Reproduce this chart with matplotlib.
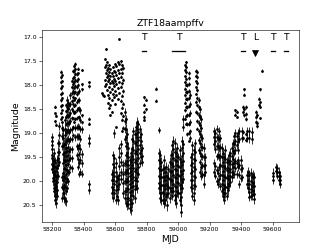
import numpy as np
import matplotlib
matplotlib.use("Agg")
import matplotlib.pyplot as plt

# ---- data: strands of observations (MJD, typical error, magnitudes) ----
season1 = [
    (58200, 0.08, [19.08, 19.15, 19.24, 19.33, 19.45, 19.52, 19.63, 19.74]),
    (58206, 0.09, [19.55, 19.66, 19.80, 19.93, 20.00]),
    (58214, 0.10, [19.40, 19.55, 19.71, 19.84, 19.98, 20.13, 20.20]),
    (58220, 0.03, [18.45, 18.58, 18.75]),
    (58220, 0.10, [19.60, 19.78, 19.90, 20.05, 20.17, 20.31, 20.40]),
    (58226, 0.03, [18.63, 18.82]),
    (58226, 0.11, [19.70, 19.88, 19.99, 20.12, 20.26, 20.45]),
    (58233, 0.10, [19.55, 19.73, 19.86, 20.02, 20.18, 20.30]),
    (58240, 0.09, [19.20, 19.38, 19.52, 19.66, 19.88]),
    (58247, 0.08, [18.85, 19.04, 19.21, 19.39, 19.60]),
    (58256, 0.03, [17.72, 17.83, 17.94, 18.06, 18.19, 18.31, 18.44, 18.57, 18.70]),
    (58262, 0.03, [17.78, 17.91, 18.02, 18.15, 18.27, 18.41, 18.52, 18.66, 18.77]),
    (58262, 0.08, [18.88, 19.05, 19.27, 19.92, 20.11, 20.35]),
    (58268, 0.09, [18.93, 19.09, 19.26, 19.44, 19.61, 19.82, 19.97, 20.14, 20.25]),
    (58274, 0.10, [19.22, 19.41, 19.55, 19.73, 19.90, 20.08, 20.24, 20.35]),
    (58280, 0.09, [18.72, 18.90, 19.04, 19.22, 19.38, 19.57, 19.74, 19.93, 20.11, 20.40]),
    (58286, 0.04, [18.40, 18.53, 18.66, 18.80]),
    (58286, 0.09, [18.97, 19.16, 19.31, 19.48, 19.66, 19.84, 20.02, 20.20, 20.42]),
    (58293, 0.08, [18.30, 18.46, 18.61, 18.79, 18.96, 19.14, 19.36, 19.55, 19.77, 19.95, 20.15]),
    (58300, 0.07, [18.36, 18.50, 18.64, 18.79, 18.94, 19.11, 19.28, 19.46, 19.63, 19.81, 20.00]),
    (58308, 0.07, [18.42, 18.61, 18.78, 18.97, 19.16, 19.37, 19.55, 19.80]),
    (58316, 0.07, [18.21, 18.39, 18.57, 18.74, 18.93, 19.12, 19.33, 19.51, 19.70]),
    (58324, 0.04, [17.90, 18.04, 18.17, 18.33, 18.50, 18.68]),
    (58324, 0.07, [18.92, 19.12, 19.33, 19.52, 19.73]),
    (58332, 0.04, [17.71, 17.84, 17.97, 18.11, 18.24, 18.38, 18.53, 18.69, 18.86, 19.04]),
    (58340, 0.03, [17.60, 17.71, 17.82, 17.93, 18.05, 18.17, 18.30, 18.43, 18.57, 18.76]),
    (58348, 0.03, [17.55, 17.65, 17.76, 17.88, 18.01, 18.13, 18.27, 18.40, 18.55, 18.70]),
    (58348, 0.07, [18.88, 19.08]),
    (58356, 0.04, [17.76, 17.90, 18.04, 18.19, 18.35, 18.52, 18.69]),
    (58356, 0.07, [18.87, 19.06, 19.27, 19.45]),
    (58364, 0.03, [17.65, 17.75, 17.86, 17.99, 18.14, 18.30, 18.48, 18.66]),
    (58364, 0.07, [18.86, 19.07, 19.31, 19.54, 19.70]),
    (58372, 0.06, [18.12, 18.31, 18.49, 18.67, 18.86, 19.05, 19.24, 19.43, 19.62, 19.85]),
    (58380, 0.07, [18.52, 18.72, 18.91, 19.12, 19.33, 19.55, 19.80]),
    (58390, 0.03, [17.68, 17.98, 18.08, 18.62, 18.77]),
    (58390, 0.08, [18.92, 19.43, 19.62, 19.84]),
    (58432, 0.03, [17.94, 18.02, 18.70, 18.80]),
    (58432, 0.09, [19.10, 19.20, 20.06, 20.18]),
]

season2 = [
    (58515, 0.02, [18.17]),
    (58524, 0.02, [18.20]),
    (58532, 0.02, [18.22]),
    (58536, 0.02, [17.45, 17.62, 17.88, 18.02]),
    (58542, 0.02, [17.25, 17.58, 17.75, 17.97]),
    (58549, 0.02, [17.52, 17.68, 17.83, 18.10]),
    (58556, 0.02, [17.63, 17.78, 17.91, 18.21, 18.36]),
    (58563, 0.02, [17.57, 17.72, 17.86, 18.04, 18.27, 18.48]),
    (58570, 0.02, [17.67, 17.81, 17.96, 18.13, 18.41, 18.62]),
    (58578, 0.02, [17.74, 17.92, 18.08, 18.30, 18.55]),
    (58580, 0.10, [19.85, 19.98, 20.12, 20.25]),
    (58586, 0.02, [17.62, 17.80, 17.95, 18.18]),
    (58588, 0.09, [19.45, 19.63, 19.80, 19.97, 20.16, 20.35]),
    (58594, 0.02, [17.70, 17.87, 18.02, 18.24]),
    (58596, 0.09, [19.00, 19.52, 19.70, 19.88, 20.06, 20.25]),
    (58601, 0.02, [17.55, 17.73, 17.90, 18.11, 18.38]),
    (58604, 0.10, [19.62, 19.81, 20.00, 20.18, 20.38]),
    (58609, 0.02, [17.60, 17.78, 17.98, 18.20, 18.86]),
    (58612, 0.10, [19.92, 20.10, 20.30]),
    (58617, 0.02, [17.52, 17.69, 17.85, 18.06, 18.28]),
    (58620, 0.10, [19.96, 20.16, 20.40]),
    (58627, 0.02, [17.03, 17.56, 17.75, 17.93, 18.15]),
    (58628, 0.09, [19.31, 19.50, 19.68, 19.87, 20.05]),
    (58635, 0.03, [17.50, 17.66, 17.82, 18.03, 18.32, 18.58]),
    (58636, 0.08, [19.22, 19.41, 19.60, 19.80, 19.95]),
    (58643, 0.03, [17.58, 17.74, 17.96, 18.22, 18.47, 18.72, 18.95]),
    (58651, 0.04, [17.64, 17.88, 18.12, 18.38, 18.63, 18.88]),
    (58652, 0.10, [19.66, 19.85, 20.04, 20.25]),
    (58660, 0.08, [18.56, 18.74, 18.92, 19.12, 19.62, 19.81, 20.00, 20.20, 20.35]),
    (58668, 0.09, [18.71, 18.90, 19.07, 19.26, 19.45, 19.63, 19.82, 20.01, 20.21, 20.45]),
    (58676, 0.10, [19.02, 19.21, 19.40, 19.58, 19.77, 19.96, 20.15, 20.34, 20.50]),
    (58684, 0.10, [19.31, 19.49, 19.66, 19.83, 20.00, 20.17, 20.34, 20.48]),
    (58692, 0.11, [19.56, 19.73, 19.89, 20.06, 20.23, 20.40, 20.55]),
    (58700, 0.11, [19.42, 19.60, 19.78, 19.95, 20.12, 20.29, 20.45, 20.60]),
    (58708, 0.10, [19.11, 19.30, 19.48, 19.66, 19.84, 20.02, 20.20, 20.45]),
    (58716, 0.10, [18.96, 19.15, 19.34, 19.53, 19.72, 19.91, 20.10, 20.30]),
    (58724, 0.10, [19.02, 19.21, 19.40, 19.59, 19.78, 19.97, 20.16, 20.35]),
    (58732, 0.09, [18.86, 19.02, 19.19, 19.37, 19.56, 19.75, 19.93, 20.10]),
    (58740, 0.09, [18.76, 18.91, 19.07, 19.25, 19.44, 19.63, 19.82, 20.00, 20.15]),
    (58748, 0.08, [18.81, 18.97, 19.14, 19.32, 19.51, 19.70, 19.85]),
    (58756, 0.08, [18.91, 19.07, 19.24, 19.42, 19.62]),
    (58764, 0.08, [19.01, 19.17, 19.35, 19.50]),
    (58772, 0.08, [19.31, 19.47, 19.60]),
    (58785, 0.03, [18.25, 18.40, 18.55, 18.65, 18.72]),
    (58795, 0.03, [18.30, 18.50]),
    (58858, 0.03, [18.07, 18.32]),
    (58876, 0.06, [18.93]),
]

season3 = [
    (58880, 0.09, [19.40, 19.56, 19.72, 19.88, 20.04, 20.15]),
    (58887, 0.10, [19.45, 19.61, 19.77, 19.93, 20.09, 20.25, 20.35]),
    (58894, 0.10, [19.60, 19.76, 19.92, 20.08, 20.24, 20.40]),
    (58901, 0.10, [19.75, 19.91, 20.07, 20.23, 20.38]),
    (58908, 0.10, [19.55, 19.73, 19.91, 20.09, 20.27, 20.45]),
    (58915, 0.11, [19.80, 19.98, 20.16, 20.40]),
    (58922, 0.10, [19.70, 19.88, 20.06, 20.30]),
    (58930, 0.11, [19.90, 20.08, 20.26, 20.50]),
    (58938, 0.10, [19.75, 19.93, 20.11, 20.25]),
    (58946, 0.10, [19.60, 19.78, 19.96, 20.14, 20.35]),
    (58954, 0.10, [19.45, 19.63, 19.81, 19.99, 20.20]),
    (58962, 0.10, [19.25, 19.43, 19.61, 19.79, 19.97, 20.15, 20.30]),
    (58970, 0.09, [19.15, 19.33, 19.51, 19.69, 19.87, 20.05, 20.20]),
    (58978, 0.10, [19.20, 19.38, 19.56, 19.74, 19.92, 20.10, 20.28, 20.40]),
    (58986, 0.10, [19.40, 19.58, 19.76, 19.94, 20.12, 20.30, 20.45]),
    (58994, 0.10, [19.30, 19.48, 19.66, 19.84, 20.02, 20.20]),
    (59002, 0.10, [19.50, 19.68, 19.86, 20.04, 20.25]),
    (59010, 0.10, [19.35, 19.53, 19.71, 19.89, 20.07, 20.25, 20.40]),
    (59018, 0.11, [19.60, 19.78, 19.96, 20.14, 20.32, 20.50, 20.64]),
    (59026, 0.09, [19.15, 19.30, 19.48, 19.66, 19.84, 20.02, 20.15]),
    (59034, 0.08, [18.70, 18.87, 19.22, 19.40, 19.58, 19.76, 19.95]),
    (59042, 0.03, [17.58, 17.69, 17.81, 17.94, 18.07, 18.21, 18.36, 18.52, 18.70]),
    (59050, 0.03, [17.52, 17.62, 17.73, 17.86, 17.99, 18.13, 18.28, 18.45, 18.63, 18.80]),
    (59058, 0.04, [18.00, 18.14, 18.29, 18.45, 18.62, 18.80, 19.02]),
    (59066, 0.04, [17.75, 17.85, 17.97, 18.11, 18.27, 18.44, 18.62, 18.81, 19.00, 19.15]),
    (59074, 0.06, [18.20, 18.39, 18.58, 18.77, 18.96, 19.10]),
    (59082, 0.10, [19.50, 19.66, 19.82, 19.98, 20.12]),
    (59090, 0.10, [19.25, 19.43, 19.61, 19.79, 19.97, 20.15, 20.30]),
    (59098, 0.10, [19.35, 19.53, 19.71, 19.89, 20.07, 20.25, 20.40]),
    (59106, 0.09, [19.20, 19.38, 19.56, 19.74, 19.92, 20.10]),
    (59114, 0.03, [17.70, 17.80, 17.91, 18.04, 18.18, 18.34, 18.55]),
    (59122, 0.04, [17.72, 17.83, 17.96, 18.10, 18.26, 18.42, 18.58, 18.74, 18.90]),
    (59130, 0.06, [18.30, 18.46, 18.62, 18.79, 18.96, 19.14, 19.35]),
    (59138, 0.07, [18.50, 18.66, 18.83, 19.01, 19.20, 19.40, 19.60, 19.80]),
    (59146, 0.08, [18.70, 18.89, 19.08, 19.28, 19.48, 19.70, 19.90]),
    (59154, 0.08, [19.10, 19.29, 19.48, 19.67, 19.85]),
    (59162, 0.09, [19.30, 19.49, 19.68, 19.87, 20.05]),
    (59170, 0.09, [19.50, 19.66, 19.80]),
]

season4 = [
    (59228, 0.08, [18.95, 19.08, 19.22, 19.62, 19.80]),
    (59236, 0.08, [19.00, 19.15, 19.33, 19.68, 19.88]),
    (59244, 0.08, [18.90, 19.08, 19.27, 19.48, 19.77, 20.00]),
    (59252, 0.09, [19.10, 19.27, 19.45, 19.82, 20.05]),
    (59260, 0.08, [18.95, 19.12, 19.30, 19.50, 19.70, 19.95]),
    (59268, 0.09, [19.10, 19.29, 19.48, 19.67, 19.86, 20.10]),
    (59276, 0.09, [19.30, 19.49, 19.68, 19.87, 20.05, 20.20]),
    (59284, 0.10, [19.40, 19.59, 19.78, 19.97, 20.16, 20.30]),
    (59292, 0.10, [19.50, 19.69, 19.88, 20.07, 20.25, 20.38]),
    (59300, 0.10, [19.35, 19.54, 19.73, 19.92, 20.11, 20.25]),
    (59308, 0.10, [19.60, 19.77, 19.94, 20.11, 20.30]),
    (59316, 0.10, [19.55, 19.72, 19.89, 20.06, 20.18]),
    (59324, 0.09, [19.45, 19.62, 19.79, 19.96, 20.08]),
    (59332, 0.09, [19.40, 19.57, 19.74, 19.90, 20.02]),
    (59340, 0.09, [19.30, 19.47, 19.64, 19.80, 19.92]),
    (59348, 0.08, [19.20, 19.37, 19.54, 19.70, 19.85]),
    (59356, 0.08, [19.05, 19.22, 19.40, 19.62, 19.85]),
    (59364, 0.03, [18.52, 18.61]),
    (59364, 0.08, [19.00, 19.17, 19.35, 19.57, 19.72]),
    (59372, 0.03, [18.55, 18.66]),
    (59372, 0.08, [19.05, 19.24, 19.62, 19.85]),
    (59380, 0.08, [19.00, 19.16, 19.35, 19.55, 19.70]),
    (59388, 0.08, [18.95, 19.12, 19.66, 19.86, 20.06]),
    (59396, 0.09, [19.55, 19.74, 19.93]),
    (59404, 0.08, [18.95, 19.10, 19.72, 19.92]),
    (59412, 0.04, [18.45, 18.56, 18.97, 19.10]),
    (59420, 0.03, [18.08, 18.20, 18.50, 18.62]),
    (59428, 0.04, [18.45, 18.60, 18.70, 19.02, 19.14]),
    (59436, 0.09, [18.95, 19.10, 19.86, 20.05]),
    (59444, 0.10, [19.80, 19.97, 20.15]),
    (59452, 0.10, [18.96, 19.10, 19.87, 20.05, 20.22, 20.32]),
    (59460, 0.10, [19.82, 19.99, 20.16, 20.30]),
    (59468, 0.10, [18.97, 19.12, 19.92, 20.10, 20.28]),
    (59476, 0.10, [19.86, 20.03, 20.20]),
    (59484, 0.11, [19.92, 20.10, 20.27, 20.37]),
    (59492, 0.04, [18.55, 18.66, 18.76]),
    (59500, 0.04, [18.62, 18.79, 18.84]),
    (59515, 0.03, [18.28, 18.40]),
    (59522, 0.03, [18.08, 18.35, 18.45, 18.68]),
    (59532, 0.03, [17.70]),
]

season5 = [
    (59600, 0.09, [19.82, 19.90, 19.97]),
    (59620, 0.08, [19.70, 19.78]),
    (59628, 0.08, [19.72, 19.80, 19.88]),
    (59638, 0.09, [19.80, 19.90, 19.98]),
    (59646, 0.09, [19.88, 19.98, 20.05]),
]

# observing windows marked at the top
tess_start = [58770, 58964, 59399, 59587, 59670]
tess_end = [58795, 59041, 59424, 59613, 59695]
tess_label = ["T", "T", "T", "T", "T"]
limit_mjd = [59491]
limit_label = ["L"]
label_mag = 17.0
window_mag = 17.28
limit_mag = 17.33

# ---- build flat arrays ----
mjd, mag, err = [], [], []
for season in (season1, season2, season3, season4, season5):
    for t, e, ms in season:
        for m in ms:
            mjd.append(t)
            mag.append(m)
            err.append(e)
mjd = np.array(mjd)
mag = np.array(mag)
err = np.array(err)

DPI = 51.875
fig = plt.figure(figsize=(6.4, 4.8), dpi=DPI)
ax = fig.add_subplot(111)

ax.errorbar(mjd, mag, yerr=err, fmt='.', color='k', ecolor='k',
            markersize=5.5, elinewidth=1.1, capsize=0)

for s, e, lab in zip(tess_start, tess_end, tess_label):
    ax.plot([s, e], [window_mag, window_mag], color='k', lw=1.8)
    ax.text((s + e) / 2, label_mag, lab, ha='center', va='center', fontsize=13)
for t, lab in zip(limit_mjd, limit_label):
    ax.plot([t], [limit_mag], marker='v', color='k', markersize=9, ls='none')
    ax.text(t, label_mag, lab, ha='center', va='center', fontsize=13)

ax.set_xlim(58133, 59766)
ax.set_ylim(20.84, 16.845)
ax.set_xticks(np.arange(58200, 59601, 200))
ax.set_yticks(np.arange(17.0, 20.51, 0.5))
ax.tick_params(labelsize=8.5)
ax.set_xlabel("MJD", fontsize=13)
ax.set_ylabel("Magnitude", fontsize=13)
ax.set_title("ZTF18aampffv", fontsize=13)

fig.savefig("out.png", dpi=DPI)
